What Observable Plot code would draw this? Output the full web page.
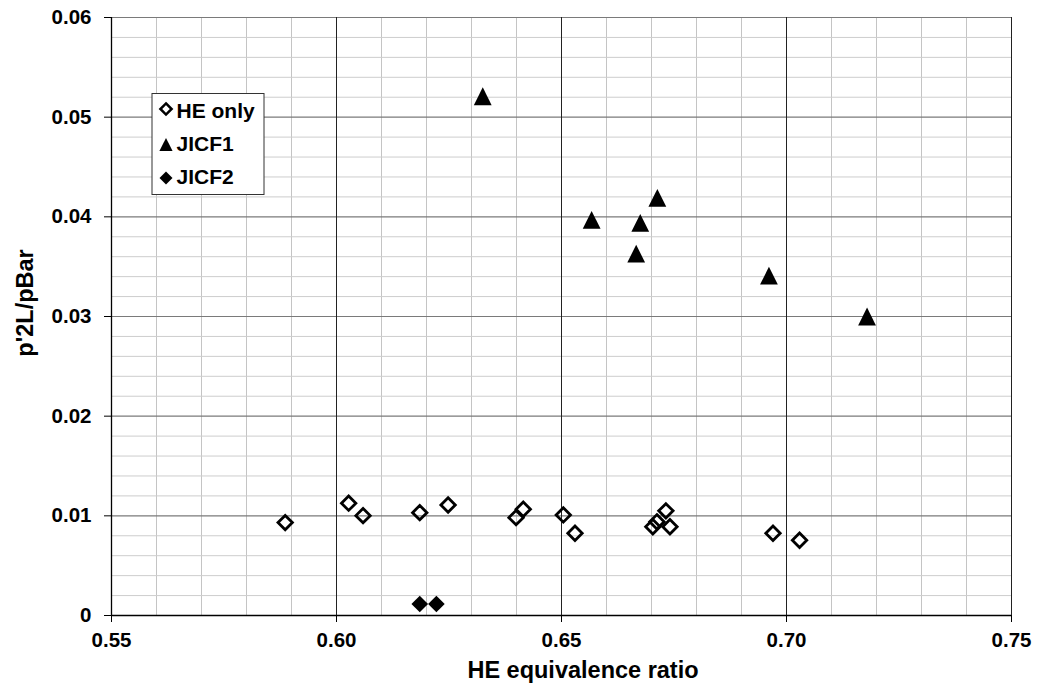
<!DOCTYPE html>
<html><head><meta charset="utf-8">
<script src="https://cdn.jsdelivr.net/npm/d3@7"></script>
<script src="https://cdn.jsdelivr.net/npm/@observablehq/plot@0.6"></script>
<style>
body{margin:0;background:#fff}
#chart svg{font-family:"Liberation Sans",Arial,sans-serif;overflow:visible}
</style>
</head><body><div id="chart"></div>
<script>
// ---- data ----
const heOnlyX = [0.5886, 0.6027, 0.6059, 0.6185, 0.6248, 0.6399, 0.6415, 0.6504, 0.6530, 0.6703, 0.6712, 0.6732, 0.6741, 0.6970, 0.7029];
const heOnlyY = [0.00932, 0.01127, 0.01002, 0.01032, 0.01109, 0.00982, 0.01066, 0.01009, 0.00825, 0.0089, 0.0094, 0.0105, 0.0089, 0.00825, 0.00755];
const jicf1X = [0.6325, 0.6567, 0.6666, 0.6675, 0.6713, 0.6961, 0.7179];
const jicf1Y = [0.0521, 0.0397, 0.0363, 0.0394, 0.0419, 0.0341, 0.0300];
const jicf2X = [0.6185, 0.6222];
const jicf2Y = [0.00115, 0.00115];
const seriesNames = ["HE only", "JICF1", "JICF2"];
const xMajor = [0.55, 0.60, 0.65, 0.70, 0.75];
const xMinor = [0.56, 0.57, 0.58, 0.59, 0.61, 0.62, 0.63, 0.64, 0.66, 0.67, 0.68, 0.69, 0.71, 0.72, 0.73, 0.74];
const yMajor = [0, 0.01, 0.02, 0.03, 0.04, 0.05, 0.06];
const yMinor = [0.002,0.004,0.006,0.008,0.012,0.014,0.016,0.018,0.022,0.024,0.026,0.028,0.032,0.034,0.036,0.038,0.042,0.044,0.046,0.048,0.052,0.054,0.056,0.058];
const xTitle = "HE equivalence ratio";
const yTitle = "p'2L/pBar";

const toRows = (xs, ys) => xs.map((x, i) => ({x, y: ys[i]}));
const heRows = toRows(heOnlyX, heOnlyY);
const j1Rows = toRows(jicf1X, jicf1Y);
const j2Rows = toRows(jicf2X, jicf2Y);

// custom symbols: square-bbox triangle and diamond, centered on bbox
const triSym = {draw(ctx, size){ const h = Math.sqrt(size/Math.PI); ctx.moveTo(0,-h); ctx.lineTo(h,h); ctx.lineTo(-h,h); ctx.closePath(); }};
const diaSym = {draw(ctx, size){ const h = Math.sqrt(size/Math.PI); ctx.moveTo(0,-h); ctx.lineTo(h,0); ctx.lineTo(0,h); ctx.lineTo(-h,0); ctx.closePath(); }};

const W = 1037, H = 685, mL = 111, mR = 26, mT = 17, mB = 70;

const chart = Plot.plot({
  width: W, height: H,
  marginLeft: mL, marginRight: mR, marginTop: mT, marginBottom: mB,
  style: {fontFamily: '"Liberation Sans", Arial, sans-serif', background: "#fff", color: "#000"},
  x: {domain: [0.55, 0.75]},
  y: {domain: [0, 0.06]},
  marks: [
    Plot.ruleX(xMinor, {stroke: "#c4c4c4", strokeWidth: 1}),
    Plot.ruleY(yMinor, {stroke: "#cdcdcd", strokeWidth: 1}),
    Plot.ruleY(yMajor.slice(1), {stroke: "#7a7a7a", strokeWidth: 1.2}),
    Plot.ruleX(xMajor.slice(1), {stroke: "#222", strokeWidth: 1}),
    Plot.axisX({ticks: xMajor, tickFormat: d3.format(".2f"), tickSize: 7, tickPadding: 10, fontSize: 20.5, fontWeight: "bold", label: null, stroke: "#000"}),
    Plot.axisY({ticks: yMajor, tickFormat: d => d === 0 ? "0" : d.toFixed(2), tickSize: 7, tickPadding: 13, fontSize: 20.5, fontWeight: "bold", label: null, stroke: "#000"}),
    Plot.ruleX([0.55], {stroke: "#000", strokeWidth: 1.3}),
    Plot.ruleY([0], {stroke: "#000", strokeWidth: 1.3}),
    Plot.dot(heRows, {x: "x", y: "y", symbol: diaSym, r: 7.2, stroke: "#000", strokeWidth: 2.8, fill: "none", strokeLinejoin: "miter"}),
    Plot.dot(j1Rows, {x: "x", y: "y", symbol: triSym, r: 8.9, fill: "#000", stroke: "none"}),
    Plot.dot(j2Rows, {x: "x", y: "y", symbol: diaSym, r: 8.3, fill: "#000", stroke: "none"})
  ]
});
document.getElementById("chart").appendChild(chart);

const svg = d3.select(chart);
// axis titles
svg.append("text").attr("x", 583).attr("y", 678).attr("text-anchor", "middle")
  .attr("font-size", 23.5).attr("font-weight", "bold").attr("fill", "#000").text(xTitle);
svg.append("text").attr("transform", "translate(33,303) rotate(-90)").attr("text-anchor", "middle")
  .attr("font-size", 23.5).attr("font-weight", "bold").attr("fill", "#000").text(yTitle);

// legend
const lg = svg.append("g").attr("text-anchor", "start");
lg.append("rect").attr("x", 152).attr("y", 93.5).attr("width", 112).attr("height", 101)
  .attr("fill", "#fff").attr("stroke", "#333").attr("stroke-width", 1);
const symPath = (sym, r) => { const p = d3.path(); sym.draw(p, Math.PI*r*r); return p.toString(); };
const legendItems = [
  {name: seriesNames[0], d: symPath(diaSym, 5.6), fill: "#fff", stroke: "#000", sw: 2.5, cy: 109, base: 118},
  {name: seriesNames[1], d: symPath(triSym, 6.6), fill: "#000", stroke: "none", sw: 0, cy: 144.5, base: 151},
  {name: seriesNames[2], d: symPath(diaSym, 6.5), fill: "#000", stroke: "none", sw: 0, cy: 178, base: 184}
];
legendItems.forEach(it => {
  lg.append("path").attr("d", it.d).attr("transform", `translate(166,${it.cy})`)
    .attr("fill", it.fill).attr("stroke", it.stroke).attr("stroke-width", it.sw);
  lg.append("text").attr("x", 176.5).attr("y", it.base).attr("font-size", 21).attr("text-anchor", "start")
    .attr("font-weight", "bold").attr("fill", "#000").text(it.name);
});
</script>
</body></html>
